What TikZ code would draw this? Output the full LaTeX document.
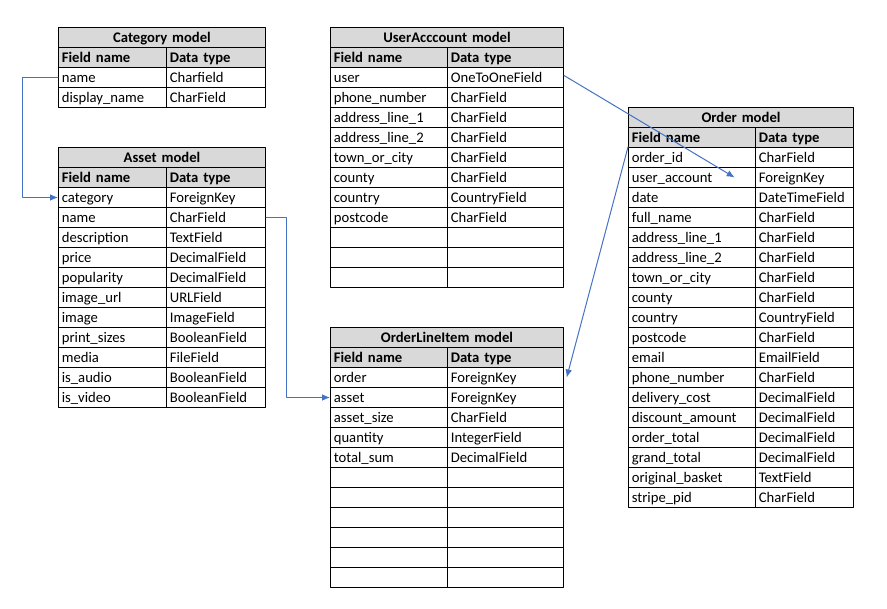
\documentclass[tikz,border=0pt]{standalone}
\usepackage{fontspec}
\setmainfont{Carlito}
\usetikzlibrary{arrows.meta}
\definecolor{hdrgray}{HTML}{D9D9D9}
\definecolor{linkblue}{HTML}{4472C4}
\tikzset{
  cell/.style={draw, line width=0.75pt, anchor=north west, minimum height=15pt,
    inner xsep=2.5pt, inner ysep=0pt, text height=8.75pt, text depth=1.75pt,
    align=left, font=\fontsize{11}{13}\selectfont},
  wd/.style={minimum width=#1, text width=#1-5pt},
  head/.style={cell, fill=hdrgray, font=\fontsize{11}{13}\selectfont\bfseries},
  title/.style={head, align=center},
  link/.style={linkblue, line width=0.75pt, -{Latex[length=6pt,width=5pt]}}
}
\begin{document}
\begin{tikzpicture}[line cap=round, line join=round, x=0.75pt, y=-0.75pt]

    \useasboundingbox (0,0) rectangle (887,609);

    % Category model
    \node[title, wd=155.25pt] (cat-t) at (58,27) {Category model};
    \node[head, wd=81pt] (cat-h1) at (58,47) {Field name};
    \node[head, wd=74.25pt] (cat-h2) at (166,47) {Data type};
    \foreach \f/\t [count=\i] in {name/Charfield, display\_name/CharField} {
        \node[cell, wd=81pt] (cat-\i) at (58,47+20*\i) {\f};
        \node[cell, wd=74.25pt] (cat-\i-t) at (166,47+20*\i) {\t};
    }

    % Asset model
    \node[title, wd=155.25pt] (asset-t) at (58,147) {Asset model};
    \node[head, wd=81pt] (asset-h1) at (58,167) {Field name};
    \node[head, wd=74.25pt] (asset-h2) at (166,167) {Data type};
    \foreach \f/\t [count=\i] in {category/ForeignKey, name/CharField,
        description/TextField, price/DecimalField, popularity/DecimalField,
        image\_url/URLField, image/ImageField, print\_sizes/BooleanField,
        media/FileField, is\_audio/BooleanField, is\_video/BooleanField} {
        \node[cell, wd=81pt] (asset-\i) at (58,167+20*\i) {\f};
        \node[cell, wd=74.25pt] (asset-\i-t) at (166,167+20*\i) {\t};
    }

    % UserAcccount model
    \node[title, wd=174.75pt] (ua-t) at (330,27) {UserAcccount model};
    \node[head, wd=87.75pt] (ua-h1) at (330,47) {Field name};
    \node[head, wd=87pt] (ua-h2) at (447,47) {Data type};
    \foreach \f/\t [count=\i] in {user/OneToOneField, phone\_number/CharField,
        address\_line\_1/CharField, address\_line\_2/CharField,
        town\_or\_city/CharField, county/CharField, country/CountryField,
        postcode/CharField, {}/{}, {}/{}, {}/{}} {
        \node[cell, wd=87.75pt] (ua-\i) at (330,47+20*\i) {\f};
        \node[cell, wd=87pt] (ua-\i-t) at (447,47+20*\i) {\t};
    }

    % OrderLineItem model
    \node[title, wd=174.75pt] (oli-t) at (330,327) {OrderLineItem model};
    \node[head, wd=87.75pt] (oli-h1) at (330,347) {Field name};
    \node[head, wd=87pt] (oli-h2) at (447,347) {Data type};
    \foreach \f/\t [count=\i] in {order/ForeignKey, asset/ForeignKey,
        asset\_size/CharField, quantity/IntegerField, total\_sum/DecimalField,
        {}/{}, {}/{}, {}/{}, {}/{}, {}/{}, {}/{}} {
        \node[cell, wd=87.75pt] (oli-\i) at (330,347+20*\i) {\f};
        \node[cell, wd=87pt] (oli-\i-t) at (447,347+20*\i) {\t};
    }

    % Order model
    \node[title, wd=168.75pt] (ord-t) at (628,107) {Order model};
    \node[head, wd=95.25pt] (ord-h1) at (628,127) {Field name};
    \node[head, wd=73.5pt] (ord-h2) at (755,127) {Data type};
    \foreach \f/\t [count=\i] in {order\_id/CharField, user\_account/ForeignKey,
        date/DateTimeField, full\_name/CharField, address\_line\_1/CharField,
        address\_line\_2/CharField, town\_or\_city/CharField, county/CharField,
        country/CountryField, postcode/CharField, email/EmailField,
        phone\_number/CharField, delivery\_cost/DecimalField,
        discount\_amount/DecimalField, order\_total/DecimalField,
        grand\_total/DecimalField, original\_basket/TextField,
        stripe\_pid/CharField} {
        \node[cell, wd=95.25pt] (ord-\i) at (628,127+20*\i) {\f};
        \node[cell, wd=73.5pt] (ord-\i-t) at (755,127+20*\i) {\t};
    }

    % relations
    \draw[link] (cat-1.west) -- ++(-36,0) |- (asset-1.west);
    \draw[link] (asset-2-t.east) -- ++(20,0) |- (oli-2.west);
    \draw[link] ([yshift=1.5pt]ua-1-t.east) -- ([xshift=-16pt]ord-2.east);
    \draw[link] (ord-1.north west) -- ([xshift=2pt]oli-1-t.east);

\end{tikzpicture}
\end{document}
